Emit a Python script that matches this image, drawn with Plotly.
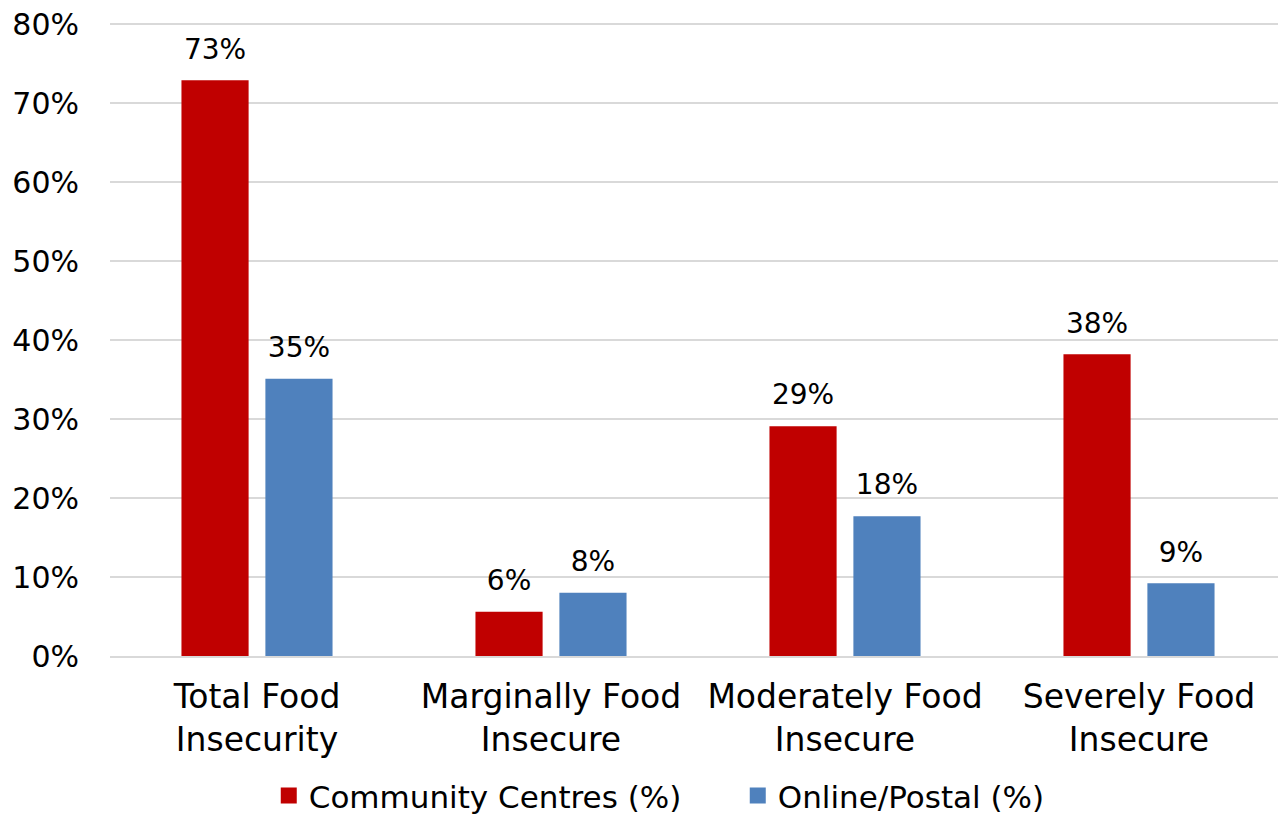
import plotly.graph_objects as go

categories = ["Total Food<br>Insecurity", "Marginally Food<br>Insecure",
              "Moderately Food<br>Insecure", "Severely Food<br>Insecure"]
community_centres = [72.9, 5.6, 29.1, 38.2]
online_postal = [35.1, 8.0, 17.7, 9.2]
series_names = ["Community Centres (%)", "Online/Postal (%)"]
series_colors = ["#C00000", "#4F81BD"]
groups = ["cc", "op"]
y_ticks = [0, 10, 20, 30, 40, 50, 60, 70, 80]
y_tick_labels = [f"{v}%" for v in y_ticks]

FONT = "DejaVu Sans"
BARGAP = 0.429
fig = go.Figure()
for vals, name, col, g in zip([community_centres, online_postal], series_names, series_colors, groups):
    fig.add_trace(go.Bar(x=categories, y=vals, name=name, showlegend=False,
                         offsetgroup=g,
                         marker=dict(color=col, line=dict(width=0)),
                         hoverinfo="x+y"))
for vals, name, col, g in zip([community_centres, online_postal], series_names, series_colors, groups):
    # value labels grouped like the bars
    fig.add_trace(go.Scatter(x=categories, y=vals, mode="markers+text", showlegend=False,
                             offsetgroup=g,
                             text=[f"{v:.0f}%" for v in vals], textposition="top center",
                             textfont=dict(size=28, color="#000000", family=FONT),
                             marker=dict(size=22, opacity=0), cliponaxis=False,
                             hoverinfo="skip"))
for name, col, g in zip(series_names, series_colors, groups):
    # legend entries
    fig.add_trace(go.Scatter(x=[None], y=[None], mode="markers", name=name,
                             offsetgroup=g,
                             marker=dict(symbol="square", size=20, color=col)))

fig.update_layout(
    width=1278, height=811,
    margin=dict(l=102, r=0, t=15, b=163, autoexpand=False),
    paper_bgcolor="white", plot_bgcolor="white",
    barmode="group", bargap=BARGAP, bargroupgap=0.2,
    scattermode="group", scattergap=BARGAP,
    font=dict(family=FONT, size=26, color="#000000"),
    showlegend=True,
    legend=dict(orientation="h", x=0.135, xanchor="left", y=-0.221, yanchor="middle",
                font=dict(size=31, color="#000000"), itemwidth=30, traceorder="normal",
                entrywidth=424, bgcolor="rgba(0,0,0,0)", borderwidth=0),
)
fig.update_yaxes(range=[0, 80.15], tickvals=y_ticks, ticktext=y_tick_labels,
                 showgrid=True, gridcolor="#D9D9D9", gridwidth=2, automargin=False,
                 zeroline=False, showline=False, ticks="", ticklabelstandoff=30,
                 ticklabeloverflow="allow",
                 tickfont=dict(size=30, color="#000000"))
fig.update_xaxes(showline=True, linecolor="#D9D9D9", linewidth=2, ticks="", automargin=False,
                 tickfont=dict(size=33, color="#000000"), ticklabelstandoff=10)

fig.write_html("out.html")
